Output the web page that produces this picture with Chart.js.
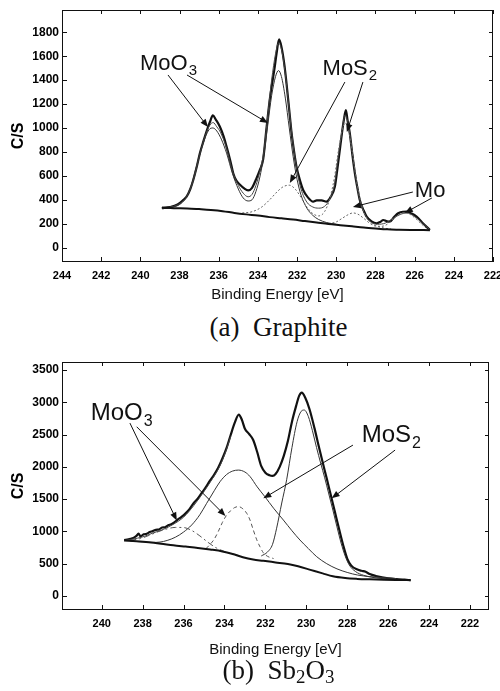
<!DOCTYPE html>
<html><head><meta charset="utf-8">
<script src="https://cdn.jsdelivr.net/npm/chart.js@4.4.1/dist/chart.umd.min.js"></script>
<style>
html,body{margin:0;padding:0;background:#fff;}
#wrap{position:relative;width:500px;height:691px;overflow:hidden;background:#fff;}
canvas{position:absolute;left:0;}
.cap{position:absolute;left:0;width:557px;text-align:center;font-family:"Liberation Serif","Times New Roman",serif;font-size:27px;line-height:27px;color:#111;white-space:pre;}
.cap sub{font-size:0.7em;line-height:0;vertical-align:-0.22em;}
</style></head>
<body><div id="wrap">
<canvas id="c1" width="500" height="310" style="top:0"></canvas>
<div class="cap" style="top:314px">(a)  Graphite</div>
<canvas id="c2" width="500" height="315" style="top:350px"></canvas>
<div class="cap" style="top:657px">(b)  Sb<sub>2</sub>O<sub>3</sub></div>
</div>
<script>
// ================= DATA: (a) Graphite =================
const topXTicks = [244,242,240,238,236,234,232,230,228,226,224,222];
const topYTicks = [0,200,400,600,800,1000,1200,1400,1600,1800];
// [binding energy eV, counts/s]
const topEnvelope = [[238.9,330],[238.5,338],[238.1,360],[237.8,400],[237.64,426],[237.45,490],[237.3,565],[237.1,690],[236.96,790],[236.78,890],[236.6,983],[236.45,1050],[236.3,1105],[236.15,1070],[235.94,1011],[235.75,930],[235.6,844],[235.4,720],[235.26,622],[235.1,560],[234.9,524],[234.7,495],[234.5,478],[234.3,500],[234.1,570],[233.9,650],[233.73,740],[233.56,1000],[233.4,1230],[233.3,1345],[233.15,1500],[233.05,1620],[232.92,1740],[232.8,1680],[232.65,1530],[232.54,1373],[232.4,1150],[232.28,956],[232.15,800],[232.03,677],[231.85,560],[231.69,482],[231.45,420],[231.18,384],[231.0,395],[230.75,395],[230.5,384],[230.3,420],[230.07,510],[229.95,650],[229.82,816],[229.7,970],[229.6,1080],[229.51,1150],[229.42,1060],[229.31,956],[229.18,780],[229.05,621],[228.9,480],[228.8,398],[228.6,310],[228.45,259],[228.2,220],[227.94,204],[227.75,215],[227.6,231],[227.45,222],[227.27,217],[227.05,255],[226.84,287],[226.6,300],[226.41,301],[226.15,285],[225.9,259],[225.55,200],[225.22,148]];
const topFit = [[238.9,330],[238.1,358],[237.64,425],[237.3,560],[236.96,785],[236.6,975],[236.4,1035],[236.28,1045],[236.1,1010],[235.9,960],[235.6,830],[235.3,640],[235.0,520],[234.75,455],[234.5,425],[234.3,445],[234.1,520],[233.9,640],[233.7,800],[233.5,1100],[233.3,1400],[233.1,1620],[232.95,1710],[232.8,1660],[232.6,1450],[232.4,1150],[232.2,860],[232.0,640],[231.8,490],[231.5,380],[231.2,340],[230.9,330],[230.6,345],[230.35,400],[230.1,520],[229.9,760],[229.7,980],[229.55,1110],[229.4,1040],[229.2,820],[229.0,580],[228.8,400],[228.5,265],[228.2,210],[227.9,195],[227.5,205],[227.1,245],[226.7,280],[226.4,290],[226.0,260],[225.6,205],[225.22,150]];
const topMoO3 = [[238.9,332],[238.4,338],[238.0,360],[237.7,410],[237.4,520],[237.1,700],[236.8,870],[236.5,985],[236.3,1000],[236.1,975],[235.85,900],[235.6,790],[235.3,620],[235.0,490],[234.75,415],[234.5,390],[234.3,400],[234.1,470],[233.9,590],[233.7,770],[233.5,1020],[233.3,1270],[233.1,1430],[232.95,1480],[232.8,1430],[232.6,1250],[232.4,1000],[232.2,760],[232.0,570],[231.8,440],[231.5,330],[231.2,270],[230.9,235],[230.5,210],[230.0,195]];
const topMoS2 = [[234.8,290],[234.3,300],[233.8,340],[233.4,400],[233.0,470],[232.7,510],[232.4,522],[232.1,490],[231.8,420],[231.5,340],[231.2,285],[230.9,265],[230.6,300],[230.35,400],[230.1,580],[229.9,800],[229.7,980],[229.55,1040],[229.4,1000],[229.2,820],[229.0,600],[228.8,420],[228.6,300],[228.3,220],[228.0,185],[227.6,165],[227.2,155]];
const topMo = [[230.4,200],[230.0,215],[229.7,245],[229.4,275],[229.15,290],[228.9,280],[228.6,245],[228.3,205],[228.0,180],[227.7,178],[227.4,195],[227.1,240],[226.8,275],[226.5,292],[226.2,275],[225.9,235],[225.6,190],[225.3,150]];
const topBackground = [[238.9,335],[238.3,330],[237.6,328],[237.0,322],[236.4,315],[235.8,305],[235.2,290],[234.6,278],[234.0,268],[233.4,255],[232.8,245],[232.2,235],[231.6,222],[231.0,210],[230.4,198],[229.8,188],[229.2,178],[228.6,168],[228.0,160],[227.4,153],[226.8,150],[226.2,148],[225.22,146]];

// ================= DATA: (b) Sb2O3 =================
const botXTicks = [240,238,236,234,232,230,228,226,224,222];
const botYTicks = [0,500,1000,1500,2000,2500,3000,3500];
const botEnvelope = [[238.9,865],[238.75,875],[238.6,885],[238.45,900],[238.3,930],[238.2,965],[238.1,925],[237.95,955],[237.8,965],[237.65,990],[237.5,1005],[237.35,1025],[237.2,1030],[237.05,1060],[236.9,1065],[236.75,1095],[236.6,1110],[236.45,1140],[236.3,1180],[236.1,1225],[235.9,1280],[235.7,1350],[235.5,1440],[235.3,1510],[235.1,1600],[234.9,1690],[234.7,1790],[234.5,1880],[234.3,1990],[234.1,2130],[233.9,2290],[233.7,2490],[233.5,2680],[233.3,2810],[233.15,2730],[233.0,2590],[232.8,2510],[232.6,2420],[232.4,2230],[232.2,2010],[232.0,1910],[231.8,1870],[231.65,1860],[231.5,1890],[231.3,2000],[231.1,2170],[230.9,2400],[230.7,2700],[230.5,2940],[230.35,3100],[230.22,3150],[230.05,3070],[229.85,2900],[229.6,2600],[229.4,2330],[229.2,2070],[229.0,1820],[228.8,1560],[228.6,1300],[228.4,1040],[228.2,790],[228.0,580],[227.8,470],[227.5,410],[227.3,390],[227.1,375],[226.9,340],[226.6,310],[226.3,290],[226.0,275],[225.6,262],[225.2,252],[224.9,245]];
const botFit = [[238.9,860],[238.5,880],[238.0,915],[237.5,975],[237.0,1030],[236.5,1110],[236.0,1220],[235.5,1400],[235.0,1620],[234.6,1810],[234.2,2030],[233.9,2270],[233.7,2470]];
const botMoS2Broad = [[238.6,850],[238.0,838],[237.5,830],[237.15,835],[236.8,860],[236.4,910],[236.0,990],[235.6,1100],[235.2,1260],[234.87,1435],[234.5,1630],[234.22,1769],[233.9,1880],[233.6,1935],[233.32,1950],[233.0,1920],[232.75,1850],[232.4,1690],[232.02,1537],[231.6,1360],[231.12,1176],[230.7,1010],[230.31,867],[229.9,735],[229.49,608],[229.0,500],[228.5,420],[228.0,365],[227.5,325],[226.9,300],[226.3,285],[225.6,270]];
const botMoS2 = [[232.2,620],[231.9,680],[231.65,800],[231.45,1050],[231.2,1440],[230.96,1800],[230.7,2300],[230.45,2700],[230.25,2860],[230.1,2880],[229.9,2780],[229.7,2560],[229.5,2300],[229.3,2060],[229.1,1830],[228.9,1580],[228.7,1330],[228.5,1070],[228.3,820],[228.1,620],[227.9,480],[227.6,380],[227.2,320],[226.8,290],[226.3,270],[225.6,258]];
const botMoO3a = [[238.6,862],[238.1,890],[237.64,944],[237.2,1000],[236.8,1040],[236.4,1062],[236.0,1060],[235.6,1015],[235.2,930],[234.8,830],[234.4,745],[234.0,690],[233.6,650],[233.2,620]];
const botMoO3b = [[234.9,735],[234.7,800],[234.5,880],[234.3,1000],[234.1,1140],[233.9,1250],[233.7,1320],[233.5,1370],[233.32,1385],[233.1,1350],[232.91,1280],[232.75,1176],[232.59,1022],[232.42,870],[232.26,760],[232.1,670],[231.9,615],[231.6,580]];
const botBackground = [[238.9,860],[238.3,848],[237.7,832],[237.1,810],[236.5,785],[235.9,765],[235.3,745],[234.7,720],[234.1,690],[233.6,650],[233.1,600],[232.6,565],[232.1,545],[231.5,520],[230.9,495],[230.4,460],[229.8,405],[229.2,350],[228.7,305],[228.1,278],[227.5,265],[226.9,258],[226.2,252],[225.5,248],[224.9,245]];

// ================= annotations (data coordinates) =================
const topLabels = [{text:'MoO',sub:'3',e:240.02,v:1485},{text:'MoS',sub:'2',e:230.70,v:1443},{text:'Mo',sub:'',e:225.99,v:421}];
const topArrows = [[238.59,1443,236.55,1008],[237.62,1443,233.49,1042],[229.56,1384,232.37,541],[228.64,1384,229.46,967],[226.09,465,229.15,340],[225.12,415,226.5,290]];
const botLabels = [{text:'MoO',sub:'3',e:240.54,v:2724},{text:'MoS',sub:'2',e:227.29,v:2389}];
const botArrows = [[238.62,2678,236.33,1170],[238.29,2621,233.95,1240],[227.72,2337,232.1,1512],[225.66,2260,228.76,1512]];

// ================= styles =================
const FAM = '"Liberation Sans", Arial, sans-serif';
const ST = {
  envelope:{borderColor:'#111',borderWidth:2.2},
  fit:{borderColor:'#444',borderWidth:1},
  comp:{borderColor:'#333',borderWidth:1},
  dotted:{borderColor:'#666',borderWidth:1,borderDash:[2,2]},
  dashdot:{borderColor:'#555',borderWidth:1,borderDash:[6,3,2,3]},
  dashed:{borderColor:'#555',borderWidth:1,borderDash:[4,3]},
  bg:{borderColor:'#111',borderWidth:2}
};

const decor = {
  id:'decor',
  afterDatasetsDraw(chart, args, opts){
    const {ctx, chartArea:a} = chart; const x = chart.scales.x, y = chart.scales.y;
    ctx.save();
    ctx.strokeStyle = '#111'; ctx.lineWidth = 1; ctx.setLineDash([]);
    ctx.strokeRect(a.left+0.5, a.top+0.5, a.right-a.left-1, a.bottom-a.top-1);
    ctx.beginPath();
    x.ticks.forEach(t=>{const p=Math.round(x.getPixelForValue(t.value))+0.5; ctx.moveTo(p,a.bottom); ctx.lineTo(p,a.bottom-5); ctx.moveTo(p,a.top); ctx.lineTo(p,a.top+4);});
    y.ticks.forEach(t=>{const p=Math.round(y.getPixelForValue(t.value))+0.5; ctx.moveTo(a.left,p); ctx.lineTo(a.left+5,p); ctx.moveTo(a.right,p); ctx.lineTo(a.right-4,p);});
    ctx.stroke();
    ctx.fillStyle = '#111';
    (opts.arrows||[]).forEach(([e1,v1,e2,v2])=>{
      const x1=x.getPixelForValue(e1), y1=y.getPixelForValue(v1), x2=x.getPixelForValue(e2), y2=y.getPixelForValue(v2);
      const ang=Math.atan2(y2-y1,x2-x1), L=8, W=3.2, c=Math.cos(ang), s=Math.sin(ang);
      ctx.beginPath(); ctx.moveTo(x1,y1); ctx.lineTo(x2-c*L*0.7, y2-s*L*0.7); ctx.stroke();
      ctx.beginPath(); ctx.moveTo(x2,y2);
      ctx.lineTo(x2-L*c+W*s, y2-L*s-W*c);
      ctx.lineTo(x2-L*c-W*s, y2-L*s+W*c);
      ctx.closePath(); ctx.fill();
    });
    ctx.textBaseline='alphabetic'; ctx.textAlign='left';
    (opts.labels||[]).forEach(l=>{
      const px=x.getPixelForValue(l.e), py=y.getPixelForValue(l.v), sz=opts.size;
      ctx.font = sz+'px '+FAM;
      ctx.fillText(l.text, px, py);
      if(l.sub){ const w=ctx.measureText(l.text).width; ctx.font=Math.round(sz*0.68)+'px '+FAM; ctx.fillText(l.sub, px+w+1, py+sz*0.25); }
    });
    ctx.restore();
  }
};

function pts(arr){ return arr.map(p=>({x:p[0], y:p[1]})); }

function build(id, o){
  const ds = o.series.map(([arr, st])=>Object.assign({data:pts(arr), pointRadius:0, fill:false, cubicInterpolationMode:'monotone'}, ST[st]));
  return new Chart(document.getElementById(id), {
    type:'line',
    data:{datasets:ds},
    plugins:[decor],
    options:{
      responsive:false, animation:false, events:[],
      layout:{padding:{left:0, top:o.area.top, right:500-o.area.right, bottom:0}},
      plugins:{legend:{display:false}, tooltip:{enabled:false}, decor:{arrows:o.arrows, labels:o.labels, size:o.labelSize}},
      scales:{
        x:{type:'linear', reverse:true, min:o.xMin, max:o.xMax,
          grid:{display:false, drawTicks:false}, border:{display:false},
          ticks:{color:'#000', font:{size:11, family:FAM, weight:'bold'}, padding:7, maxRotation:0, autoSkip:false, callback:v=>String(v)},
          afterBuildTicks:s=>{ s.ticks = o.xTicks.map(v=>({value:v})); },
          afterFit:s=>{ s.height = o.height - o.area.bottom; s.paddingLeft = 0; s.paddingRight = 0; },
          title:{display:true, text:'Binding Energy [eV]', color:'#111', font:{size:15, family:FAM}, padding:{top:0, bottom:6}}
        },
        y:{type:'linear', min:o.yMin, max:o.yMax,
          grid:{display:false, drawTicks:false}, border:{display:false},
          ticks:{color:'#000', font:{size:12, family:FAM, weight:'bold'}, padding:3, callback:v=>String(v)},
          afterBuildTicks:s=>{ s.ticks = o.yTicks.map(v=>({value:v})); },
          afterFit:s=>{ s.width = o.area.left; s.paddingTop = 0; s.paddingBottom = 0; },
          title:{display:true, text:'C/S', color:'#000', font:{size:16, family:FAM, weight:'bold'}, padding:{top:9, bottom:0}}
        }
      }
    }
  });
}

build('c1', {
  height:310, area:{left:62, top:10, right:493, bottom:262},
  xMin:222, xMax:244, yMin:-120, yMax:1986, xTicks:topXTicks, yTicks:topYTicks,
  labels:topLabels, arrows:topArrows, labelSize:22,
  series:[[topBackground,'bg'],[topMo,'dotted'],[topMoS2,'dotted'],[topMoO3,'comp'],[topFit,'fit'],[topEnvelope,'envelope']]
});
build('c2', {
  height:315, area:{left:62, top:12, right:489, bottom:260},
  xMin:221.07, xMax:241.94, yMin:-217, yMax:3624, xTicks:botXTicks, yTicks:botYTicks,
  labels:botLabels, arrows:botArrows, labelSize:24,
  series:[[botBackground,'bg'],[botMoO3a,'dashdot'],[botMoO3b,'dashed'],[botMoS2Broad,'comp'],[botMoS2,'comp'],[botFit,'fit'],[botEnvelope,'envelope']]
});
</script>
</body></html>
